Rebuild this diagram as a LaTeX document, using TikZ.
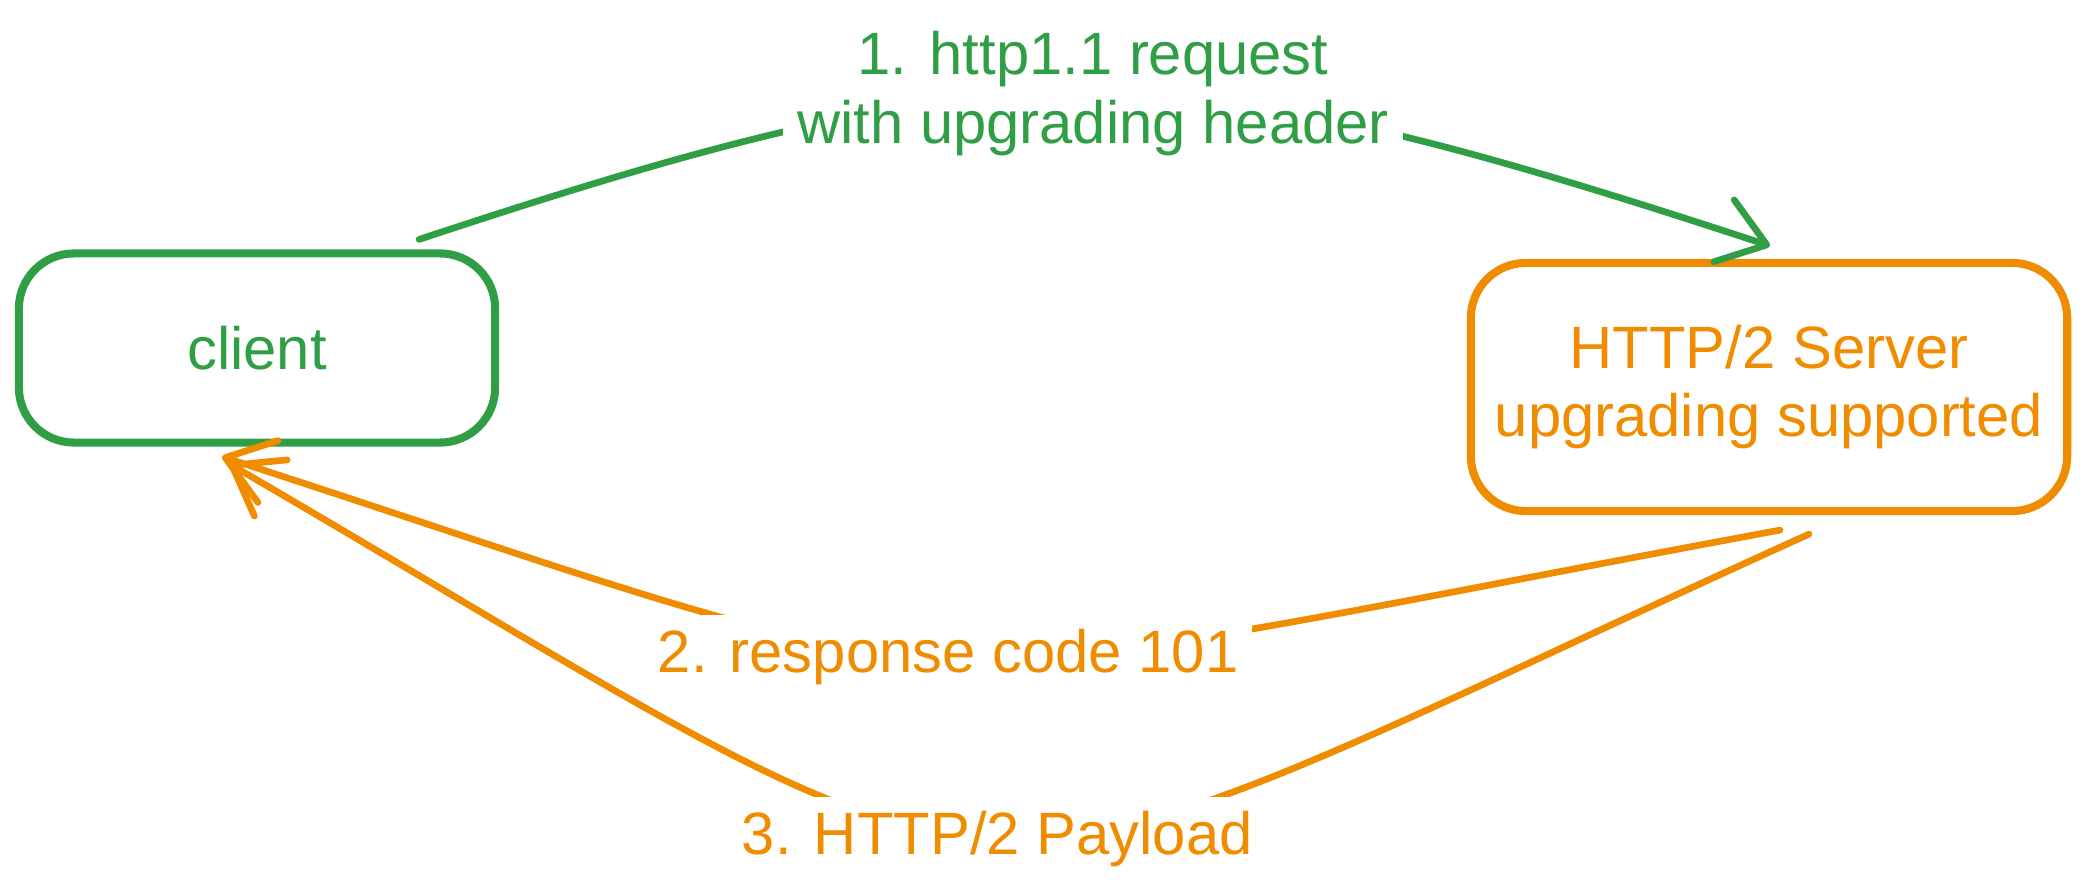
\documentclass[tikz,border=0pt]{standalone}
\usepackage{fontspec}
\setmainfont{Liberation Sans}
\usetikzlibrary{arrows.meta, positioning}
\definecolor{flowgreen}{HTML}{2F9E44}
\definecolor{floworange}{HTML}{F08C00}

\begin{document}
\begin{tikzpicture}[x=0.01cm, y=-0.01cm,
                box/.style={rectangle, draw, line width=2.3pt, rounded corners=0.55cm, align=center, font=\fontsize{17}{19.5}\selectfont},
                flow/.style={line width=1.9pt, line cap=round, line join=round, -{Straight Barb[length=4.5mm, width=6.5mm, round]}},
                lbl/.style={fill=white, align=center, inner sep=4pt, font=\fontsize{17}{19.5}\selectfont}]

                \useasboundingbox (0,0) rectangle (2086,888);

                \node[box, draw=flowgreen, text=flowgreen, minimum width=4.76cm, minimum height=1.89cm] (client) at (257,348) {client};
                \node[box, draw=floworange, text=floworange, minimum width=5.96cm, minimum height=2.48cm] (server) at (1769,387) {HTTP/2 Server\\upgrading supported};

                % upgrade request
                \draw[flow, flowgreen] ([shift={(-80,-10)}]client.north east) .. controls (1021,40) and (1164,47) .. node[lbl] (request) {1. http1.1 request\\with upgrading header} ([shift={(1,-13)}]server.north);

                % answers back to the client
                \draw[flow, floworange] ([shift={(11,15)}]server.south) .. controls (834,705) and (1027,718) .. node[lbl] (response) {2. response code 101} ([shift={(-35,10)}]client.south);
                \draw[flow, floworange] ([shift={(40,19)}]server.south) .. controls (901,945) and (1079,959) .. node[lbl] (payload) {3. HTTP/2 Payload} ([shift={(-28,17)}]client.south);
            \end{tikzpicture}
\end{document}
